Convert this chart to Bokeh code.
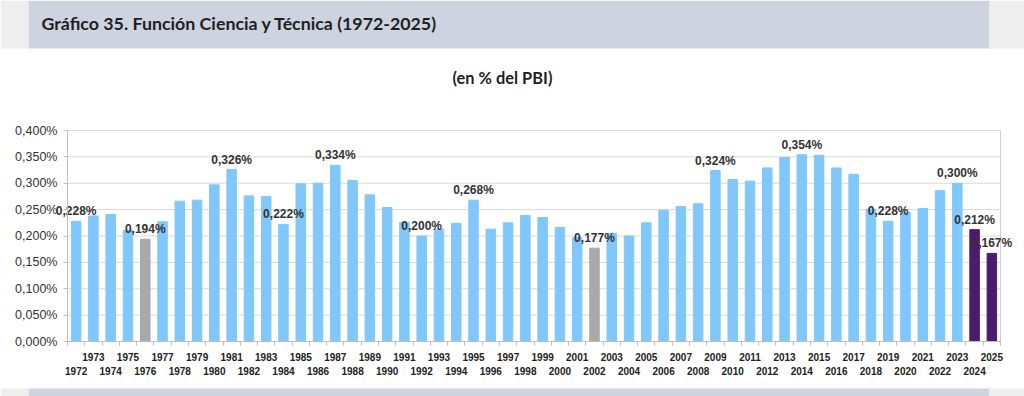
from bokeh.plotting import figure
from bokeh.models import (Range1d, FixedTicker, LinearAxis, CustomJSTickFormatter,
                          ColumnDataSource)
from bokeh.core.properties import value
from bokeh.embed import file_html
from bokeh.resources import INLINE

# ---------------- data ----------------
years = list(range(1972, 2026))
values = [0.228, 0.238, 0.241, 0.211, 0.194, 0.227, 0.266, 0.268, 0.297, 0.326,
          0.276, 0.275, 0.222, 0.299, 0.300, 0.334, 0.305, 0.278, 0.254, 0.226,
          0.200, 0.213, 0.224, 0.268, 0.213, 0.225, 0.239, 0.235, 0.216, 0.197,
          0.177, 0.205, 0.200, 0.225, 0.249, 0.256, 0.261, 0.324, 0.307, 0.304,
          0.329, 0.349, 0.354, 0.353, 0.329, 0.317, 0.251, 0.228, 0.245, 0.252,
          0.286, 0.300, 0.212, 0.167]
gray_years = [1976, 2002]
purple_years = [2024, 2025]
labeled_years = [1972, 1976, 1981, 1984, 1987, 1992, 1995, 2002, 2009, 2014,
                 2019, 2023, 2024, 2025]
y_ticks = [0.0, 0.05, 0.10, 0.15, 0.20, 0.25, 0.30, 0.35, 0.40]

title_text = "Gráfico 35. Función Ciencia y Técnica (1972-2025)"
subtitle_text = "(en % del PBI)"

BLUE = "#80c8fb"
GRAY = "#a9a9a9"
PURPLE = "#4b1c6e"
BAND = "#cdd3df"
LIGHT = "#eeeeee"
AXIS = "#bfbfbf"

W, H = 1024, 396
FL, FR, FT, FB = 67, 1000, 130, 341          # plot-area edges in page pixels
X0, X1 = years[0] - 0.5, years[-1] + 0.5
Y0, Y1 = 0.0, 0.4


def dx(px):
    return X0 + (px - FL) * (X1 - X0) / (FR - FL)


def dy(py):
    return Y0 + (FB - py) * (Y1 - Y0) / (FB - FT)


# the frame covers the whole canvas; the plot area is X0..X1 x Y0..Y1 inside it
p = figure(width=W, height=H, x_range=Range1d(dx(0), dx(W)), y_range=Range1d(dy(H), dy(0)),
           output_backend="svg", toolbar_location=None, min_border=0,
           x_axis_location=None, y_axis_location=None)
p.background_fill_color = "white"
p.border_fill_color = "white"
p.outline_line_color = None
p.xgrid.visible = False
p.ygrid.visible = False

# ---- decorative bands (header and footer) ----
band_l = [dx(0), dx(28), dx(989), dx(0), dx(28), dx(989)]
band_r = [dx(28), dx(989), dx(W), dx(28), dx(989), dx(W)]
band_t = [dy(0), dy(0), dy(0), dy(388), dy(388), dy(388)]
band_b = [dy(48), dy(48), dy(48), dy(H), dy(H), dy(H)]
band_c = [LIGHT, BAND, LIGHT, LIGHT, BAND, LIGHT]
p.quad(left=band_l, right=band_r, top=band_t, bottom=band_b, fill_color=band_c,
       line_color=None)

p.text(x=[dx(41)], y=[dy(22)], text=[title_text], text_font=value("Lato"),
       text_font_style="bold", text_font_size="17.8px", text_color="#1f1f1f",
       text_baseline="middle", text_align="left")
p.text(x=[dx(502)], y=[dy(77)], text=[subtitle_text], text_font=value("Lato"),
       text_font_style="bold", text_font_size="16.4px", text_color="#1f1f1f",
       text_baseline="middle", text_align="center")

# ---- grid lines and plot-area outline ----
p.segment(x0=[X0] * len(y_ticks), x1=[X1] * len(y_ticks), y0=y_ticks, y1=y_ticks,
          line_color="#d9d9d9", line_width=1)
p.segment(x0=[X1], x1=[X1], y0=[Y0], y1=[Y1], line_color="#d0d0d0", line_width=1)

# ---- bars ----
colors = [GRAY if y in gray_years else PURPLE if y in purple_years else BLUE for y in years]
src = ColumnDataSource(dict(x=years, top=values, color=colors))
p.vbar(x="x", top="top", width=0.55, color="color", source=src)

lab_y = [values[years.index(y)] for y in labeled_years]
lab_t = [("%.3f" % v).replace(".", ",") + "%" for v in lab_y]
p.text(x=labeled_years, y=lab_y, text=lab_t, text_font=value("Liberation Sans"),
       text_font_style="bold", text_font_size="12px", text_color="#333333",
       text_align="center", text_baseline="middle", y_offset=-10)

# ---- y axis ----
yax = LinearAxis(ticker=FixedTicker(ticks=y_ticks, minor_ticks=[]),
                 fixed_location=X0, bounds=(Y0, Y1))
yax.formatter = CustomJSTickFormatter(code="return tick.toFixed(3).replace('.', ',') + '%';")
yax.axis_line_color = AXIS
yax.major_tick_line_color = AXIS
yax.major_tick_out = 4
yax.major_tick_in = 0
yax.major_label_standoff = 6
yax.major_label_text_font = "Liberation Sans"
yax.major_label_text_font_size = "12.5px"
yax.major_label_text_color = "#333333"
p.add_layout(yax, "left")

# ---- x axis (two staggered rows) ----
odd = [y for y in years if y % 2 == 1]
even = [y for y in years if y % 2 == 0]
bounds = [y - 0.5 for y in years] + [years[-1] + 0.5]

xax1 = LinearAxis(ticker=FixedTicker(ticks=odd, minor_ticks=bounds),
                  fixed_location=Y0, bounds=(X0, X1))
xax1.axis_line_color = AXIS
xax1.major_tick_line_color = None
xax1.major_tick_out = 4
xax1.major_tick_in = 0
xax1.minor_tick_line_color = AXIS
xax1.minor_tick_out = 4
xax1.minor_tick_in = 0
xax1.major_label_standoff = 7
xax1.major_label_text_font = "Liberation Sans"
xax1.major_label_text_font_style = "bold"
xax1.major_label_text_font_size = "10px"
xax1.major_label_text_color = "#222222"
p.add_layout(xax1, "below")

xax2 = LinearAxis(ticker=FixedTicker(ticks=even, minor_ticks=[]),
                  fixed_location=Y0, bounds=(X0, X1))
xax2.axis_line_color = None
xax2.major_tick_line_color = None
xax2.minor_tick_line_color = None
xax2.major_tick_out = 0
xax2.major_tick_in = 0
xax2.minor_tick_out = 0
xax2.minor_tick_in = 0
xax2.major_label_standoff = 25
xax2.major_label_text_font = "Liberation Sans"
xax2.major_label_text_font_style = "bold"
xax2.major_label_text_font_size = "10px"
xax2.major_label_text_color = "#222222"
p.add_layout(xax2, "below")

open("out.html", "w").write(file_html(p, INLINE))
